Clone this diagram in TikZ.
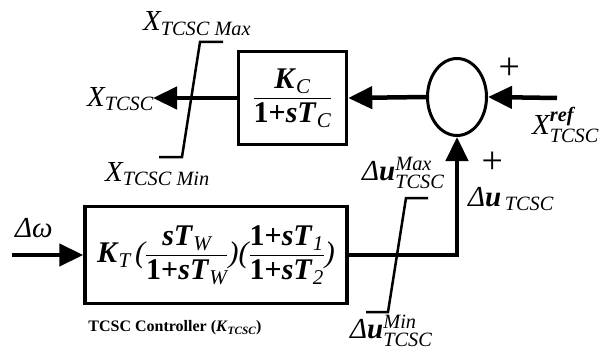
\documentclass[tikz,border=0pt]{standalone}
\usepackage{amsmath}
\usepackage{fontspec}
\setmainfont{Liberation Serif}
\usetikzlibrary{arrows.meta,shapes.geometric}
\newcommand{\bi}[1]{\textbf{\textit{#1}}}
\newcommand{\ii}[1]{\textit{#1}}
\begin{document}
\begin{tikzpicture}[x=1pt,y=-1pt,
  sig/.style={line width=4.5pt, -{Triangle[length=24pt,width=22pt]}},
  blk/.style={draw, line width=3.5pt, inner sep=0pt},
  lim/.style={line width=2.5pt},
  lbl/.style={font=\fontsize{29}{32}\selectfont, inner sep=0pt},
  plus/.style={font=\fontsize{38}{38}\selectfont\itshape, inner sep=0pt},
]
\useasboundingbox (0,0) rectangle (610,353);
% blocks
\node[blk, minimum width=108pt, minimum height=93pt, font=\fontsize{30}{32}\selectfont] (gc) at (292.5,98)
  {$\dfrac{\bi{K}_{\ii{C}}}{\textbf{1+}\bi{sT}_{\ii{C}}}$};
\node[draw, ellipse, line width=3pt, minimum width=59pt, minimum height=77pt, inner sep=0pt] (sum) at (457,97) {};
\node[blk, minimum width=262pt, minimum height=97pt, font=\fontsize{30}{32}\selectfont] (ctrl) at (216,255)
  {$\bi{K}_{\ii{T}}\,\ii{(}\dfrac{\bi{sT}_{\ii{W}}}{\textbf{1+}\bi{sT}_{\ii{W}}}\ii{)(}\dfrac{\textbf{1+}\bi{sT}_{\ii{1}}}{\textbf{1+}\bi{sT}_{\ii{2}}}\ii{)}$};
% free ends
\coordinate (xr) at (557,98);
\coordinate (xo) at (153,98);
\coordinate (dw) at (12,255);
% connectors
\draw[sig] (xr) -- (sum.east);
\draw[sig] (sum.west) -- (gc.east);
\draw[sig] (gc.west) -- (xo);
\draw[sig] (dw) -- (ctrl.west);
\draw[sig] (ctrl.east) -| (sum.south);
% limiters
\draw[lim] (223,42) -- (200,42) -- (182,157) -- (159,157);
\draw[lim] (428,198) -- (406,198) -- (388,312) -- (366,312);
% labels
\node[lbl, anchor=base west] (xmax) at (143,31) {$\ii{X}_{\ii{TCSC Max}}$};
\node[lbl, anchor=base west] (xtcsc) at (87,106) {$\ii{X}_{\ii{TCSC}}$};
\node[lbl, anchor=base west] (xmin) at (105,181) {$\ii{X}_{\ii{TCSC Min}}$};
\node[lbl, anchor=base west] (xref) at (532,134) {$\ii{X}_{\ii{TCSC}}^{\bi{ref}}$};
\node[lbl, anchor=base west] (umax) at (362,180) {$\ii{Δ}\bi{u}_{\ii{TCSC}}^{\ii{Max}}$};
\node[lbl, anchor=base west] (utcsc) at (468,206) {$\ii{Δ}\bi{u}_{\,\ii{TCSC}}$};
\node[lbl, anchor=base west] (umin) at (350,338) {$\ii{Δ}\bi{u}_{\ii{TCSC}}^{\ii{Min}}$};
\node[lbl, anchor=base west] (dwl) at (15,237) {\ii{Δω}};
\node[plus] (p1) at (509,69) {+};
\node[plus] (p2) at (492,163) {+};
\node[font=\fontsize{16}{18}\selectfont\bfseries, inner sep=0pt] (cap) at (175,328) {TCSC Controller ($\bi{K}_{\ii{TCSC}}$)};
\end{tikzpicture}
\end{document}
